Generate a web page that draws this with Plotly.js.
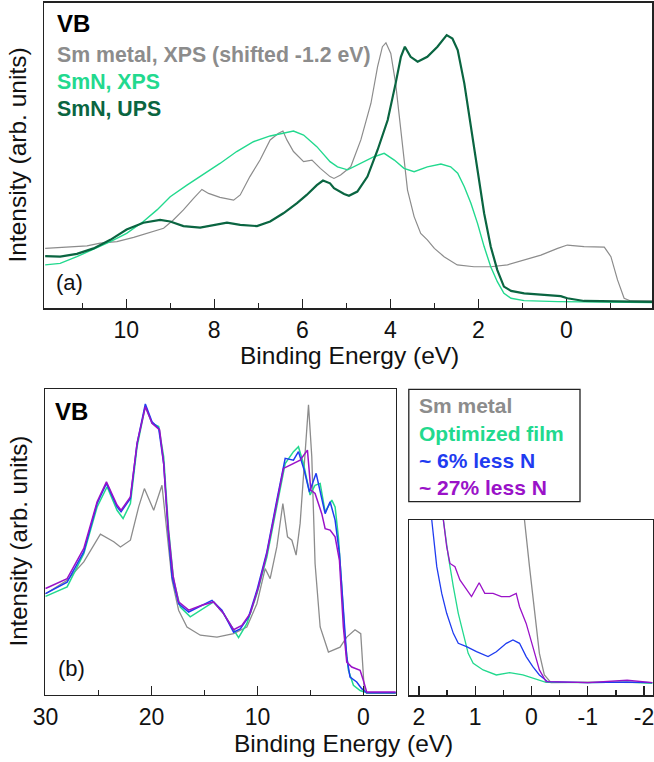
<!DOCTYPE html>
<html>
<head>
<meta charset="utf-8">
<script src="https://cdn.plot.ly/plotly-3.0.1.min.js"></script>
<style>html,body{margin:0;padding:0;background:#fff;}#chart{width:654px;height:762px;}</style>
</head>
<body>
<div id="chart"></div>
<script>
// ---------- Panel (a) data: binding energy (eV) / intensity (arb. units) ----------
const smMetalA_x = [11.84, 11.35, 10.89, 10.59, 10.21, 9.83, 9.46, 9.15, 8.93, 8.7, 8.47, 8.28, 8.13, 7.87, 7.56, 7.41, 7.19, 6.96, 6.73, 6.54, 6.44, 6.35, 6.2, 5.97, 5.78, 5.59, 5.37, 5.28, 5.13, 4.9, 4.67, 4.44, 4.29, 4.18, 4.1, 3.99, 3.88, 3.76, 3.61, 3.46, 3.31, 3.16, 3.0, 2.78, 2.48, 2.1, 1.72, 1.34, 0.96, 0.58, 0.2, -0.02, -0.4, -0.86, -1.01, -1.16, -1.31, -1.46, -1.95];
const smMetalA_y = [19.6, 20, 20.4, 21.3, 21.8, 23.2, 24.8, 26.2, 28.9, 32.2, 36, 38.9, 37.6, 36.3, 35.4, 37.1, 43.1, 48.5, 55.1, 57.3, 58, 55.1, 51.3, 48, 48.5, 45.8, 43.1, 42.5, 43.6, 46.3, 55.1, 67.1, 79.1, 85.6, 86.9, 83.4, 73.6, 57.3, 38.7, 30, 24.5, 22.4, 19.6, 16.9, 14.2, 13.6, 13.6, 14.2, 15.8, 17.4, 19.6, 20.7, 20.2, 20, 16.9, 9.3, 3.3, 2.4, 2.4];

const smnXpsA_x = [11.84, 11.5, 11.12, 10.74, 10.36, 9.99, 9.61, 9.3, 9.0, 8.62, 8.24, 7.87, 7.49, 7.11, 6.73, 6.43, 6.2, 5.97, 5.67, 5.37, 5.2, 4.97, 4.67, 4.37, 4.14, 3.91, 3.69, 3.46, 3.16, 2.85, 2.63, 2.47, 2.32, 2.17, 2.02, 1.87, 1.72, 1.57, 1.42, 1.26, 0.96, 0.2, -1.95];
const smnXpsA_y = [14.2, 14.7, 16.9, 19.3, 21.8, 24.5, 28.4, 32.2, 36.5, 40.3, 43.9, 47.4, 51.3, 54.5, 56.4, 57.3, 58, 56.7, 52.9, 48, 46.3, 45.3, 47.4, 49.6, 50.7, 48.5, 45.8, 44.7, 46.3, 47.2, 46.3, 44.2, 39.8, 34.4, 27.8, 20.2, 13.6, 8.7, 4.9, 3.3, 2.5, 2.2, 1.9];

const smnUpsA_x = [11.84, 11.5, 11.12, 10.74, 10.36, 9.99, 9.61, 9.23, 9.0, 8.7, 8.32, 8.02, 7.71, 7.41, 7.03, 6.73, 6.43, 6.12, 5.9, 5.67, 5.53, 5.37, 5.28, 5.05, 4.94, 4.75, 4.52, 4.29, 4.06, 3.88, 3.76, 3.67, 3.54, 3.38, 3.16, 2.93, 2.72, 2.59, 2.47, 2.32, 2.17, 2.02, 1.87, 1.72, 1.57, 1.42, 1.26, 0.96, 0.5, 0.13, -0.02, -0.4, -1.95];
const smnUpsA_y = [17.1, 16.9, 17.8, 19.6, 22.4, 25.8, 28, 28.9, 28.4, 26.9, 26.4, 27.3, 28, 27.3, 26.9, 28.4, 31.1, 34.4, 37.1, 40.3, 41.8, 40.9, 39.3, 37.4, 36.8, 38.2, 43.1, 51.8, 61.6, 73.6, 82.3, 85.6, 82.3, 80.7, 82.3, 85.6, 89.4, 88.3, 84.5, 73.6, 59.4, 44.2, 31.1, 20.2, 12.5, 7.1, 5.7, 4.9, 4.4, 4.0, 3.3, 2.4, 2.1];

// ---------- Panel (b) data ----------
const smMetalB_x = [30.0, 27.96, 26.39, 24.82, 23.56, 22.93, 21.99, 21.21, 20.67, 19.79, 19.01, 18.54, 18.06, 17.44, 16.65, 15.39, 13.82, 12.25, 11.0, 10.05, 9.27, 8.8, 8.17, 7.6, 7.16, 6.75, 6.35, 5.97, 5.5, 5.18, 4.87, 4.56, 4.08, 3.3, 2.2, 1.57, 0.79, 0.25, -0.09, -0.31, -3.14];
const smMetalB_y = [33.1, 37.5, 43.5, 52.6, 50.1, 48.4, 50.6, 61.5, 67.5, 60.4, 68.6, 53.9, 37.5, 27.7, 22.2, 19.5, 18.9, 20.0, 22.2, 29.8, 41.3, 38.0, 48.4, 62.6, 51.7, 50.6, 45.7, 56.1, 81.2, 94.9, 77.9, 43.0, 22.2, 14.0, 15.6, 18.9, 21.3, 20.0, 1.4, 0.5, 0.5];

const optB_x = [30.0, 27.96, 26.39, 25.13, 24.19, 23.25, 22.68, 21.99, 21.36, 20.58, 19.95, 19.32, 18.85, 18.38, 17.91, 17.28, 16.34, 15.08, 14.14, 13.2, 12.25, 11.78, 11.0, 10.05, 9.11, 8.17, 7.38, 6.6, 6.13, 5.66, 5.03, 4.56, 4.08, 3.61, 2.98, 2.67, 2.36, 2.04, 1.73, 1.41, 0.94, 0.31, -0.31, -3.14];
const optB_y = [32.2, 35.3, 46.2, 61.5, 68.1, 60.4, 57.7, 62.6, 81.2, 94.5, 88.9, 87.8, 77.9, 53.9, 37.5, 28.7, 25.5, 28.2, 30.4, 26.6, 21.1, 18.7, 23.3, 33.1, 45.1, 61.5, 75.7, 79.6, 81.2, 75.7, 65.4, 68.6, 69.2, 59.9, 63.7, 61.5, 51.7, 35.3, 17.8, 8.0, 3.1, 1.4, 0.7, 0.7];

const less6B_x = [30.0, 27.96, 26.39, 25.13, 24.25, 23.25, 22.87, 21.99, 21.36, 20.58, 19.95, 19.32, 18.85, 18.44, 18.06, 17.44, 16.49, 15.24, 14.29, 13.35, 12.25, 11.62, 10.84, 10.05, 9.11, 8.17, 7.38, 6.6, 6.13, 5.59, 5.09, 4.46, 4.02, 3.61, 3.14, 2.67, 2.26, 1.89, 1.57, 1.26, 0.63, 0.16, -0.31, -3.14];
const less6B_y = [33.1, 36.9, 46.8, 62.6, 69.2, 61.5, 59.9, 64.3, 82.3, 95.2, 89.4, 87.2, 75.7, 53.9, 38.6, 29.8, 27.1, 29.3, 30.9, 27.7, 20.5, 21.6, 25.5, 34.2, 46.8, 63.7, 77.4, 76.8, 79.6, 73.6, 66.4, 72.5, 65.9, 59.3, 63.2, 57.2, 46.2, 26.6, 12.3, 5.8, 4.2, 2.0, 0.7, 0.7];

const less27B_x = [30.0, 27.96, 26.39, 25.13, 24.25, 23.25, 22.87, 21.99, 21.36, 20.58, 19.95, 19.23, 18.85, 18.44, 17.97, 17.44, 16.49, 15.24, 14.14, 13.2, 12.25, 11.47, 10.68, 9.9, 9.11, 8.17, 7.54, 6.91, 5.97, 5.28, 4.96, 4.56, 3.93, 3.61, 3.14, 2.67, 2.26, 1.89, 1.57, 1.1, 0.31, 0.0, -0.31, -3.14];
const less27B_y = [34.8, 38.0, 47.9, 63.2, 69.7, 62.1, 60.4, 64.8, 82.3, 94.3, 88.9, 86.7, 75.7, 55.0, 39.1, 30.4, 27.7, 29.3, 30.4, 26.6, 21.3, 22.7, 26.6, 35.3, 46.2, 62.6, 74.1, 75.2, 76.8, 80.1, 67.0, 65.9, 59.3, 54.4, 53.9, 51.7, 44.0, 22.2, 10.7, 9.1, 8.0, 4.7, 0.9, 0.9];

// ---------- Inset (near Fermi edge) data ----------
const smMetalC_x = [0.3, 0.124, 0.035, -0.053, -0.141, -0.229, -0.347, -1.0, -1.7, -2.15];
const smMetalC_y = [20.0, 14.26, 10.37, 6.48, 3.14, 1.34, 0.7, 0.75, 0.7, 0.7];

const optC_x = [1.565, 1.476, 1.388, 1.3, 1.212, 1.124, 1.035, 0.859, 0.624, 0.388, 0.153, -0.024, -0.259, -1.0, -1.7, -2.15];
const optC_y = [14.26, 11.2, 8.7, 6.48, 4.81, 3.14, 2.31, 1.76, 1.34, 1.53, 1.34, 1.06, 0.73, 0.7, 0.75, 0.64];

const less6C_x = [1.771, 1.682, 1.594, 1.506, 1.388, 1.3, 1.153, 0.976, 0.771, 0.624, 0.447, 0.329, 0.212, 0.094, -0.024, -0.141, -0.288, -1.0, -1.7, -2.15];
const less6C_y = [14.26, 10.37, 8.14, 6.48, 4.81, 3.98, 3.7, 3.28, 2.87, 3.28, 3.98, 4.26, 3.98, 2.87, 2.03, 1.34, 0.78, 0.7, 0.75, 0.7];

const less27C_x = [1.565, 1.506, 1.447, 1.359, 1.271, 1.153, 1.065, 0.929, 0.829, 0.682, 0.535, 0.388, 0.271, 0.212, 0.094, -0.024, -0.141, -0.259, -1.0, -1.7, -2.15];
const less27C_y = [14.26, 12.03, 10.64, 10.37, 9.26, 8.42, 7.87, 9.03, 8.14, 8.14, 7.87, 7.87, 8.14, 7.03, 5.64, 3.7, 1.76, 0.78, 0.7, 0.9, 0.7];

// ---------- labels ----------
const legendA = ["Sm metal, XPS (shifted -1.2 eV)", "SmN, XPS", "SmN, UPS"];
const legendB = ["Sm metal", "Optimized film", "~ 6% less N", "~ 27% less N"];
const insetTickVals = [2, 1, 0, -1, -2];
const insetTickText = ["2", "1", "0", "-1", "-2"];
const xTitle = "Binding Energy (eV)";
const yTitle = "Intensity (arb. units)";

// ---------- styling ----------
const GRAY = "#8c8c8c", LGREEN = "#22d98e", DGREEN = "#0a6541", BLUE = "#1f3cf0", PURPLE = "#9a12c8";
const W = 654, H = 762;
const px = v => v / W;
const py = v => 1 - v / H;
const FONT = "Liberation Sans, Arial, sans-serif";

function tr(x, y, color, width, xa, ya) {
  return {x: x, y: y, type: "scatter", mode: "lines", xaxis: xa, yaxis: ya,
          line: {color: color, width: width}, hoverinfo: "skip", showlegend: false};
}

const data = [
  tr(smMetalA_x, smMetalA_y, GRAY, 1.2, "x", "y"),
  tr(smnXpsA_x, smnXpsA_y, LGREEN, 1.4, "x", "y"),
  tr(smnUpsA_x, smnUpsA_y, DGREEN, 2.2, "x", "y"),
  tr(smMetalB_x, smMetalB_y, GRAY, 1.3, "x2", "y2"),
  tr(optB_x, optB_y, LGREEN, 1.5, "x2", "y2"),
  tr(less6B_x, less6B_y, BLUE, 1.5, "x2", "y2"),
  tr(less27B_x, less27B_y, PURPLE, 1.5, "x2", "y2"),
  tr(smMetalC_x, smMetalC_y, GRAY, 1.3, "x3", "y3"),
  tr(optC_x, optC_y, LGREEN, 1.3, "x3", "y3"),
  tr(less6C_x, less6C_y, BLUE, 1.3, "x3", "y3"),
  tr(less27C_x, less27C_y, PURPLE, 1.3, "x3", "y3")
];

function xax(domain, range, dtick, minorDtick, anchor) {
  return {domain: domain, range: range, anchor: anchor, dtick: dtick, tick0: 0,
          ticks: "inside", ticklen: 9, tickwidth: 1.3, tickcolor: "#222",
          minor: {dtick: minorDtick, ticks: "inside", ticklen: 5, tickwidth: 1.2, tickcolor: "#222"},
          showline: true, mirror: true, linecolor: "#222", linewidth: 1.5,
          showgrid: false, zeroline: false, ticklabelstandoff: 1, ticklabeloverflow: "allow",
          tickfont: {family: FONT, size: 23, color: "#111"}, fixedrange: true};
}
function yax(domain, range, anchor) {
  return {domain: domain, range: range, anchor: anchor, showticklabels: false, ticks: "",
          showline: true, mirror: true, linecolor: "#222", linewidth: 1.5,
          showgrid: false, zeroline: false, fixedrange: true};
}

const annotations = [];
function txt(x, y, text, size, color, bold, extra) {
  annotations.push(Object.assign({xref: "paper", yref: "paper", x: px(x), y: py(y), text: bold ? "<b>" + text + "</b>" : text,
    showarrow: false, xanchor: "left", yanchor: "middle",
    font: {family: FONT, size: size, color: color}}, extra || {}));
}
// panel (a)
txt(55, 23.5, "VB", 24, "#000", true);
txt(55, 54.7, legendA[0], 21.3, GRAY, true);
txt(55, 81.7, legendA[1], 21.3, LGREEN, true);
txt(55, 108.7, legendA[2], 21.3, DGREEN, true);
txt(54, 283, "(a)", 22, "#111", false);
txt(349, 355, xTitle, 24.5, "#111", false, {xanchor: "center"});
txt(17, 155.5, yTitle, 24.5, "#111", false, {xanchor: "center", textangle: -90});
// panel (b)
txt(53, 411, "VB", 24, "#000", true);
txt(56, 668, "(b)", 22, "#111", false);
txt(18, 541.5, yTitle, 24, "#111", false, {xanchor: "center", textangle: -90});
txt(343, 743, xTitle, 24.5, "#111", false, {xanchor: "center"});
// legend for (b)
txt(417, 405, legendB[0], 21, GRAY, true);
txt(417, 433, legendB[1], 21, LGREEN, true);
txt(417, 460.5, legendB[2], 21, BLUE, true);
txt(417, 487, legendB[3], 21, PURPLE, true);

const xaxis3 = xax([px(409.3), px(652.5)], [2.17, -2.15], 1, 0.5, "y3");
xaxis3.tickmode = "array";
xaxis3.tickvals = insetTickVals;
xaxis3.ticktext = insetTickText;

const layout = {
  width: W, height: H, margin: {l: 0, r: 0, t: 0, b: 0},
  paper_bgcolor: "#fff", plot_bgcolor: "#fff", showlegend: false,
  xaxis: xax([px(44.3), px(652.3)], [11.86, -1.95], 2, 1, "y"),
  yaxis: yax([py(308.3), py(2.7)], [0, 100], "x"),
  xaxis2: xax([px(45), px(395.7)], [30.05, -3.05], 10, 5, "y2"),
  yaxis2: yax([py(694.8), py(389.3)], [0, 100], "x2"),
  xaxis3: xaxis3,
  yaxis3: yax([py(695), py(520)], [-0.33, 14.26], "x3"),
  annotations: annotations,
  shapes: [{type: "rect", xref: "paper", yref: "paper", x0: px(408.8), x1: px(580), y0: py(501.7), y1: py(389.3),
            line: {color: "#222", width: 1.3}, fillcolor: "rgba(0,0,0,0)"}]
};

Plotly.newPlot("chart", data, layout, {displayModeBar: false, staticPlot: true});
</script>
</body>
</html>
